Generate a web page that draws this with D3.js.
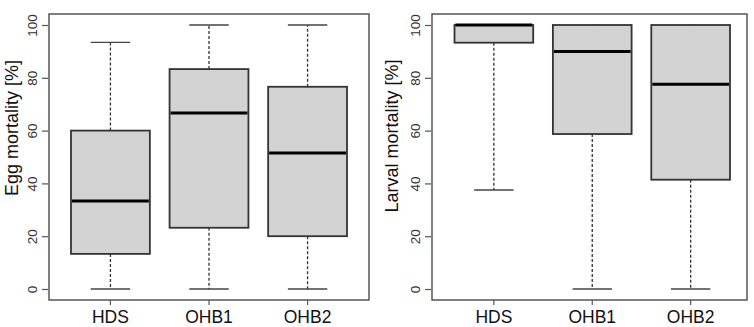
<!DOCTYPE html>
<html>
<head>
<meta charset="utf-8">
<script src="https://cdn.jsdelivr.net/npm/d3@7"></script>
<style>
  body { margin: 0; background: #fff; }
  svg { display: block; font-family: "Liberation Sans", Arial, sans-serif; }
</style>
</head>
<body>
<svg></svg>
<script>
const groups = ["HDS", "OHB1", "OHB2"];

// five-number summaries per group: min, q1, median, q3, max
const eggMin    = [0, 0, 0];
const eggQ1     = [13.3, 23.2, 20];
const eggMedian = [33.3, 66.7, 51.5];
const eggQ3     = [60, 83.3, 76.6];
const eggMax    = [93.4, 100, 100];

const larvalMin    = [37.5, 0, 0];
const larvalQ1     = [93.3, 58.7, 41.4];
const larvalMedian = [100, 90, 77.6];
const larvalQ3     = [100, 100, 100];
const larvalMax    = [100, 100, 100];

const yTicks = [0, 20, 40, 60, 80, 100];

const svg = d3.select("svg")
  .attr("width", 754)
  .attr("height", 327);

function summary(mins, q1s, meds, q3s, maxs) {
  return groups.map((g, i) => ({
    name: g, min: mins[i], q1: q1s[i], median: meds[i], q3: q3s[i], max: maxs[i]
  }));
}

const panels = [
  { left: 49, right: 369, inL: 22, inR: 22,
    title: "Egg mortality [%]", titleX: 12, titleY: 128,
    data: summary(eggMin, eggQ1, eggMedian, eggQ3, eggMax) },
  { left: 432, right: 747, inL: 22.5, inR: 17,
    title: "Larval mortality [%]", titleX: 392, titleY: 136,
    data: summary(larvalMin, larvalQ1, larvalMedian, larvalQ3, larvalMax) }
];

const frameTop = 14, frameBottom = 300;

const y = d3.scaleLinear()
  .domain([0, 100])
  .range([289, 25]);

panels.forEach(p => {
  const g = svg.append("g");

  const x = d3.scaleBand()
    .domain(groups)
    .range([p.left + p.inL, p.right - p.inR])
    .paddingInner(0.2)
    .paddingOuter(0);
  const bw = x.bandwidth();
  const cx = d => x(d.name) + bw / 2;

  // frame
  g.append("rect")
    .attr("x", p.left)
    .attr("y", frameTop)
    .attr("width", p.right - p.left)
    .attr("height", frameBottom - frameTop)
    .attr("fill", "none")
    .attr("stroke", "#555")
    .attr("stroke-width", 1.5);

  // y axis, labels rotated like R's default
  const yAxis = g.append("g")
    .attr("transform", `translate(${p.left - 1},0)`)
    .call(d3.axisLeft(y).tickValues(yTicks).tickSize(6).tickSizeOuter(0));
  yAxis.select(".domain").remove();
  yAxis.selectAll("line").attr("stroke", "#555").attr("stroke-width", 1.2);
  yAxis.selectAll(".tick text")
    .attr("font-size", 13.5)
    .attr("fill", "#333")
    .attr("text-anchor", "middle")
    .attr("transform", "rotate(-90)")
    .attr("x", 0)
    .attr("y", -11)
    .attr("dy", 0);

  // x axis
  const xAxis = g.append("g")
    .attr("transform", `translate(0,${frameBottom})`)
    .call(d3.axisBottom(x).tickSize(5).tickSizeOuter(0).tickPadding(6));
  xAxis.select(".domain").remove();
  xAxis.selectAll("line").attr("stroke", "#555").attr("stroke-width", 1.2);
  xAxis.selectAll("text")
    .attr("font-size", 17.5)
    .attr("fill", "#111");

  // axis title
  g.append("text")
    .attr("transform", `translate(${p.titleX},${p.titleY}) rotate(-90)`)
    .attr("text-anchor", "middle")
    .attr("dy", "0.35em")
    .attr("font-size", 18)
    .attr("fill", "#111")
    .text(p.title);

  const boxes = g.selectAll(".box")
    .data(p.data)
    .enter()
    .append("g");

  // whiskers
  boxes.append("line")
    .attr("x1", cx).attr("x2", cx)
    .attr("y1", d => y(d.q3)).attr("y2", d => y(d.max))
    .attr("stroke", "#333").attr("stroke-width", 1.3)
    .attr("stroke-dasharray", "3,2");
  boxes.append("line")
    .attr("x1", cx).attr("x2", cx)
    .attr("y1", d => y(d.q1)).attr("y2", d => y(d.min))
    .attr("stroke", "#333").attr("stroke-width", 1.3)
    .attr("stroke-dasharray", "3,2");

  // caps
  boxes.filter(d => d.max > d.q3).append("line")
    .attr("x1", d => cx(d) - bw / 4).attr("x2", d => cx(d) + bw / 4)
    .attr("y1", d => y(d.max)).attr("y2", d => y(d.max))
    .attr("stroke", "#444").attr("stroke-width", 1.4);
  boxes.filter(d => d.min < d.q1).append("line")
    .attr("x1", d => cx(d) - bw / 4).attr("x2", d => cx(d) + bw / 4)
    .attr("y1", d => y(d.min)).attr("y2", d => y(d.min))
    .attr("stroke", "#444").attr("stroke-width", 1.4);

  // box
  boxes.append("rect")
    .attr("x", d => x(d.name))
    .attr("y", d => y(d.q3))
    .attr("width", bw)
    .attr("height", d => y(d.q1) - y(d.q3))
    .attr("fill", "#d3d3d3")
    .attr("stroke", "#333")
    .attr("stroke-width", 1.8);

  // median
  boxes.append("line")
    .attr("x1", d => x(d.name) + 1).attr("x2", d => x(d.name) + bw - 1)
    .attr("y1", d => y(d.median)).attr("y2", d => y(d.median))
    .attr("stroke", "#000")
    .attr("stroke-width", 3);
});
</script>
</body>
</html>
